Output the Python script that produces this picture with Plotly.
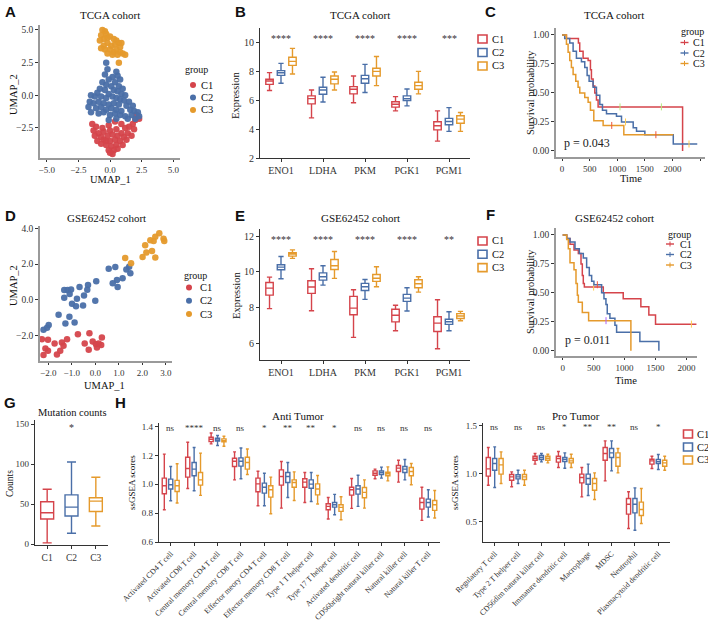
import plotly.graph_objects as go

W, H = 708, 628
RED, BLUE, ORANGE = '#D5444B', '#4A6FA8', '#E59A2C'
GROUPS = ['C1', 'C2', 'C3']
COLORS = [RED, BLUE, ORANGE]
SERIF = 'Liberation Serif'

# ---- A: TCGA UMAP ----
tcga_c1_umap = [(2.1, -1.5), (2.0, -1.9), (1.8, -2.2), (1.5, -2.4), (1.9, -2.6), (1.2, -2.5), (0.9, -2.2),
                (0.4, -2.0), (-0.1, -2.3), (-0.6, -2.5), (-1.1, -2.4), (-1.3, -2.7), (-0.9, -2.9), (-0.5, -2.8),
                (0.0, -2.7), (0.5, -2.6), (0.9, -2.9), (1.4, -2.9), (1.7, -3.1), (1.1, -3.2), (0.6, -3.1),
                (0.2, -3.0), (-0.2, -3.1), (-0.7, -3.2), (-1.2, -3.1), (-1.0, -3.5), (-0.5, -3.4), (0.0, -3.5),
                (0.4, -3.4), (0.8, -3.5), (1.3, -3.4), (1.0, -3.8), (0.5, -3.8), (0.1, -3.9), (-0.3, -3.8),
                (-0.7, -3.7), (0.3, -4.2), (-0.1, -4.2), (0.2, -4.5), (0.0, -4.4), (0.6, -4.1), (-0.3, -3.5),
                (-1.4, -2.2), (2.3, -1.8)]
tcga_c2_umap = [(-0.3, 2.5), (-0.2, 2.0), (0.5, 1.8), (-0.4, 1.6), (0.6, 1.5), (0.2, 1.4), (-0.1, 1.2),
                (0.8, 1.2), (-0.6, 1.0), (0.4, 1.0), (-0.3, 0.8), (0.1, 0.7), (0.7, 0.7), (1.0, 0.5),
                (-0.8, 0.5), (-0.4, 0.4), (0.3, 0.4), (0.6, 0.3), (-1.0, 0.2), (-0.1, 0.1), (1.2, 0.0),
                (0.9, 0.1), (-1.5, 0.0), (-1.2, -0.1), (-0.7, -0.1), (-0.3, -0.2), (0.2, -0.1), (0.5, -0.2),
                (0.8, -0.3), (1.1, -0.4), (1.5, -0.5), (-1.6, -0.5), (-1.3, -0.6), (-0.9, -0.5), (-0.5, -0.6),
                (-0.1, -0.7), (0.3, -0.6), (0.7, -0.7), (1.3, -0.8), (1.8, -0.8), (-1.7, -0.9), (-1.1, -1.0),
                (-0.7, -0.9), (-0.3, -1.1), (0.1, -1.0), (0.5, -1.1), (0.9, -1.2), (1.6, -1.1), (1.9, -1.2),
                (-1.5, -1.3), (-0.9, -1.4), (-0.5, -1.3), (0.0, -1.5), (0.4, -1.4), (0.8, -1.5), (1.2, -1.6),
                (1.7, -1.5), (2.0, -1.8), (0.5, -1.8), (1.4, -1.8), (-0.1, -1.9), (2.2, -1.3), (2.3, -1.6)]
tcga_c3_umap = [(-0.6, 5.0), (-0.4, 4.9), (-0.7, 4.6), (-0.3, 4.7), (-0.5, 4.3), (-0.2, 4.4), (0.0, 4.5),
                (0.3, 4.3), (0.5, 4.2), (0.4, 3.9), (0.7, 4.0), (0.8, 3.7), (0.1, 3.8), (-0.2, 4.0),
                (-0.5, 3.8), (-0.7, 3.6), (-0.4, 3.5), (0.0, 3.5), (0.3, 3.3), (0.5, 3.5), (0.8, 3.3),
                (1.0, 3.2), (1.2, 3.1), (0.6, 3.1), (0.2, 3.1), (-0.2, 3.2), (-0.8, 4.2), (0.9, 4.0), (0.7, 2.5)]

# ---- D: GSE62452 UMAP ----
gse_c1_umap = [(-2.27, -2.21), (-2.01, -2.24), (-2.12, -2.73), (-2.20, -3.10), (-2.01, -2.86), (-1.73, -2.45),
               (-1.63, -3.07), (-1.49, -2.86), (-1.42, -2.39), (-1.35, -2.58), (-1.20, -2.21), (-0.74, -1.93),
               (-0.45, -2.45), (-0.28, -2.80), (-0.25, -1.87), (-0.11, -2.34), (0.03, -2.49), (0.07, -2.67),
               (0.25, -2.54), (0.28, -2.11), (0.14, -2.45)]
gse_c2_umap = [(0.57, 1.74), (0.85, 1.83), (1.32, 1.70), (1.44, 1.85), (1.49, 1.48), (1.16, 1.21), (0.92, 1.10),
               (0.74, 0.92), (0.95, 0.71), (0.04, 1.03), (-0.31, 0.82), (-0.67, 0.71), (-0.34, 0.56),
               (-1.32, 0.54), (-1.18, 0.54), (-1.03, 0.58), (-1.09, 0.32), (-1.32, 0.11), (-0.78, 0.06),
               (-0.48, 0.24), (0.00, -0.06), (-0.99, -0.22), (-0.82, -0.37), (-0.52, -0.32), (-1.56, -0.84),
               (-1.10, -0.95), (-1.27, -1.33), (-0.88, -1.27), (-1.98, -1.42), (-2.20, -1.68), (-2.05, -1.57)]
gse_c3_umap = [(1.27, 2.34), (1.52, 2.04), (2.01, 2.39), (2.12, 3.05), (2.17, 2.64), (2.34, 3.33), (2.48, 3.29),
               (2.55, 3.53), (2.72, 3.72), (2.41, 2.73), (2.55, 2.36), (2.90, 3.42), (2.93, 3.29)]

# ---- B / E: expression boxes (lower whisker, q1, median, q3, upper whisker) ----
genes = ['ENO1', 'LDHA', 'PKM', 'PGK1', 'PGM1']
tcga_expr_c1 = [(6.67, 7.10, 7.33, 7.45, 7.91), (4.78, 5.75, 6.11, 6.30, 6.71), (5.82, 6.44, 6.76, 6.94, 7.68),
                (5.26, 5.52, 5.72, 5.89, 6.25), (3.17, 3.95, 4.23, 4.51, 5.26)]
tcga_expr_c2 = [(7.17, 7.72, 7.90, 8.05, 8.55), (5.88, 6.41, 6.71, 6.90, 7.59), (6.53, 7.17, 7.49, 7.72, 8.48),
                (5.61, 5.98, 6.11, 6.30, 6.78), (3.84, 4.30, 4.53, 4.74, 5.49)]
tcga_expr_c3 = [(7.82, 8.41, 8.69, 8.97, 9.59), (6.71, 7.13, 7.45, 7.68, 7.95), (7.01, 7.68, 8.00, 8.21, 9.03),
                (6.44, 6.76, 7.01, 7.24, 8.00), (3.84, 4.41, 4.69, 4.92, 5.15)]
tcga_expr_sig = ['****', '****', '****', '****', '***']

gse_expr_c1 = [(7.93, 8.69, 9.08, 9.40, 9.70), (7.81, 8.79, 9.15, 9.50, 10.17), (6.32, 7.59, 7.96, 8.62, 8.99),
               (6.69, 7.19, 7.56, 7.90, 8.12), (5.68, 6.65, 7.12, 7.48, 8.43)]
gse_expr_c2 = [(9.61, 10.11, 10.26, 10.39, 10.86), (9.25, 9.53, 9.72, 9.94, 10.34), (8.45, 8.95, 9.16, 9.35, 9.57),
               (7.80, 8.34, 8.52, 8.73, 9.10), (6.69, 7.05, 7.20, 7.34, 7.76)]
gse_expr_c3 = [(10.75, 10.88, 10.99, 11.07, 11.23), (9.63, 10.13, 10.34, 10.69, 11.14), (9.16, 9.46, 9.64, 9.85, 10.28),
               (8.86, 9.10, 9.33, 9.55, 9.72), (7.25, 7.38, 7.52, 7.65, 7.78)]
gse_expr_sig = ['****', '****', '****', '****', '**']

# ---- C / F: Kaplan-Meier steps ----
tcga_km_c1_t = [0, 79, 296, 320, 381, 472, 514, 532, 563, 593, 623, 653, 2184]
tcga_km_c1_s = [1, 0.97, 0.93, 0.86, 0.80, 0.78, 0.70, 0.62, 0.56, 0.50, 0.44, 0.38, 0.0]
tcga_km_c2_t = [0, 48, 139, 200, 260, 351, 411, 454, 490, 563, 623, 684, 732, 805, 986, 1077, 1289, 1349, 1500, 2015, 2450]
tcga_km_c2_s = [1, 0.97, 0.93, 0.86, 0.80, 0.77, 0.72, 0.65, 0.60, 0.55, 0.48, 0.40, 0.35, 0.32, 0.30, 0.25, 0.20,
                0.17, 0.14, 0.06, 0.06]
tcga_km_c3_t = [0, 79, 109, 139, 169, 200, 248, 290, 321, 411, 472, 514, 575, 744, 1119, 2015]
tcga_km_c3_s = [1, 0.92, 0.85, 0.78, 0.72, 0.66, 0.60, 0.55, 0.50, 0.46, 0.42, 0.35, 0.26, 0.22, 0.14, 0.14]
tcga_cens = [([1050, 1800], [0.38, 0.38]), ([1150, 2300], [0.25, 0.06]), ([900, 1700], [0.22, 0.14])]

gse_km_c1_t = [0, 65, 118, 183, 253, 296, 317, 333, 350, 656, 978, 1263, 1392, 1500, 2161]
gse_km_c1_s = [1, 0.97, 0.92, 0.87, 0.84, 0.75, 0.65, 0.58, 0.55, 0.50, 0.45, 0.38, 0.31, 0.23, 0.23]
gse_km_c2_t = [0, 65, 118, 199, 269, 333, 387, 430, 468, 505, 629, 667, 699, 720, 763, 844, 871, 1247, 1554]
gse_km_c2_s = [1, 0.97, 0.94, 0.88, 0.84, 0.80, 0.72, 0.65, 0.60, 0.57, 0.50, 0.45, 0.40, 0.32, 0.28, 0.22,
               0.16, 0.08, 0.0]
gse_km_c3_t = [0, 65, 91, 118, 183, 215, 237, 253, 317, 419, 1102]
gse_km_c3_s = [1, 0.96, 0.88, 0.76, 0.70, 0.58, 0.48, 0.42, 0.33, 0.26, 0.0]
gse_cens = [([500, 2080], [0.55, 0.23]), ([560], [0.57]), ([700], [0.26])]

# ---- G: mutation counts ----
mut_counts = [(1.7, 31.4, 39.3, 52.9, 68.6), (13.6, 35.1, 46.3, 61.6, 102.5), (22.7, 40.9, 53.7, 57.9, 83.5)]

# ---- H: immune ssGSEA ----
anti_cells = ['Activated CD4 T cell', 'Activated CD8 T cell', 'Central memory CD4 T cell',
              'Central memory CD8 T cell', 'Effector meory CD4 T cell', 'Effector memory CD8 T cell',
              'Type 1 T helper cell', 'Type 17 T helper cell', 'Activated dendritic cell',
              'CD56bright natural killer cell', 'Natural killer cell', 'Natural killer T cell']
anti_sig = ['ns', '****', 'ns', 'ns', '*', '**', '**', '*', 'ns', 'ns', 'ns', 'ns']
anti_c1 = [(0.824, 0.934, 0.99, 1.043, 1.209), (0.971, 1.05, 1.11, 1.188, 1.292), (1.28, 1.296, 1.312, 1.326, 1.356),
           (1.031, 1.123, 1.16, 1.181, 1.225), (0.851, 0.948, 1.003, 1.043, 1.091), (0.835, 0.994, 1.054, 1.10, 1.158),
           (0.874, 0.98, 1.015, 1.038, 1.082), (0.759, 0.824, 0.847, 0.865, 0.909), (0.833, 0.925, 0.962, 0.98, 1.04),
           (1.038, 1.063, 1.077, 1.093, 1.105), (1.015, 1.089, 1.112, 1.13, 1.167), (0.75, 0.828, 0.874, 0.904, 0.98)]
anti_c2 = [(0.886, 0.967, 0.997, 1.036, 1.123), (0.955, 1.059, 1.105, 1.151, 1.255), (1.269, 1.299, 1.308, 1.319, 1.338),
           (1.038, 1.126, 1.16, 1.183, 1.252), (0.851, 0.939, 0.98, 1.008, 1.077), (0.909, 1.013, 1.054, 1.082, 1.151),
           (0.881, 0.973, 1.001, 1.031, 1.082), (0.789, 0.842, 0.858, 0.874, 0.93), (0.847, 0.932, 0.967, 0.99, 1.063),
           (1.043, 1.068, 1.082, 1.093, 1.119), (1.031, 1.082, 1.105, 1.123, 1.172), (0.773, 0.842, 0.874, 0.897, 0.962)]
anti_c3 = [(0.87, 0.95, 0.99, 1.027, 1.142), (0.923, 0.994, 1.031, 1.082, 1.216), (1.264, 1.294, 1.303, 1.315, 1.333),
           (1.068, 1.105, 1.151, 1.188, 1.245), (0.796, 0.911, 0.962, 0.99, 1.05), (0.888, 0.98, 1.013, 1.031, 1.086),
           (0.863, 0.927, 0.967, 1.003, 1.061), (0.754, 0.812, 0.84, 0.858, 0.914), (0.835, 0.907, 0.944, 0.978, 1.031),
           (1.024, 1.059, 1.073, 1.084, 1.121), (0.997, 1.059, 1.089, 1.116, 1.144), (0.766, 0.819, 0.858, 0.888, 0.957)]

pro_cells = ['Regulatory T cell', 'Type 2 T helper cell', 'CD56dim natural killer cell', 'Immature dendritic cell',
             'Macrophage', 'MDSC', 'Neutrophil', 'Plasmacytoid dendritic cell']
pro_sig = ['ns', 'ns', 'ns', '*', '**', '**', 'ns', '*']
pro_c1 = [(0.882, 0.976, 1.052, 1.17, 1.274), (0.865, 0.934, 0.969, 0.993, 1.021), (1.101, 1.142, 1.163, 1.184, 1.212),
          (1.066, 1.122, 1.16, 1.184, 1.233), (0.76, 0.906, 0.962, 0.997, 1.066), (0.927, 1.142, 1.212, 1.274, 1.344),
          (0.431, 0.58, 0.684, 0.743, 0.813), (1.056, 1.101, 1.135, 1.153, 1.184)]
pro_c2 = [(0.858, 1.038, 1.108, 1.16, 1.281), (0.90, 0.948, 0.969, 0.99, 1.038), (1.125, 1.149, 1.17, 1.191, 1.212),
          (1.059, 1.128, 1.149, 1.17, 1.219), (0.774, 0.892, 0.951, 0.997, 1.101), (1.031, 1.17, 1.219, 1.264, 1.344),
          (0.413, 0.594, 0.684, 0.743, 0.854), (1.045, 1.108, 1.128, 1.149, 1.201)]
pro_c3 = [(0.90, 0.997, 1.094, 1.16, 1.229), (0.882, 0.941, 0.969, 0.993, 1.038), (1.115, 1.142, 1.163, 1.184, 1.205),
          (1.066, 1.115, 1.135, 1.16, 1.205), (0.733, 0.83, 0.899, 0.951, 1.01), (1.01, 1.08, 1.17, 1.219, 1.264),
          (0.483, 0.566, 0.628, 0.705, 0.847), (1.038, 1.08, 1.115, 1.142, 1.184)]


def px(x):
    return x / W


def py(y):
    return 1 - y / H


fig = go.Figure()


def add_umap(groups, n):
    for g, col, pts in zip(GROUPS, COLORS, groups):
        xs, ys = zip(*pts)
        fig.add_trace(go.Scatter(x=xs, y=ys, mode='markers', name=g,
                                 marker=dict(color=col, size=6.5, opacity=0.95),
                                 xaxis='x' + n, yaxis='y' + n))


def add_boxes(cats, groups, n):
    for g, col, stats in zip(GROUPS, COLORS, groups):
        lo, q1, med, q3, hi = zip(*stats)
        fig.add_trace(go.Box(x=cats, lowerfence=lo, q1=q1, median=med, q3=q3, upperfence=hi,
                             name=g, line=dict(color=col, width=1.4), fillcolor='white',
                             whiskerwidth=0.7, boxpoints=False, offsetgroup=g, alignmentgroup=n,
                             xaxis='x' + n, yaxis='y' + n))


def add_km(times, survs, cens, n):
    for g, col, t, s, c in zip(GROUPS, COLORS, times, survs, cens):
        fig.add_trace(go.Scatter(x=t, y=s, mode='lines', line=dict(color=col, width=1.5, shape='hv'),
                                 name=g, xaxis='x' + n, yaxis='y' + n))
        fig.add_trace(go.Scatter(x=c[0], y=c[1], mode='markers',
                                 marker=dict(symbol='line-ns-open', size=5, line=dict(color=col, width=1)),
                                 xaxis='x' + n, yaxis='y' + n))


add_umap([tcga_c1_umap, tcga_c2_umap, tcga_c3_umap], '')
add_boxes(genes, [tcga_expr_c1, tcga_expr_c2, tcga_expr_c3], '2')
add_km([tcga_km_c1_t, tcga_km_c2_t, tcga_km_c3_t], [tcga_km_c1_s, tcga_km_c2_s, tcga_km_c3_s], tcga_cens, '3')
add_umap([gse_c1_umap, gse_c2_umap, gse_c3_umap], '4')
add_boxes(genes, [gse_expr_c1, gse_expr_c2, gse_expr_c3], '5')
add_km([gse_km_c1_t, gse_km_c2_t, gse_km_c3_t], [gse_km_c1_s, gse_km_c2_s, gse_km_c3_s], gse_cens, '6')

for g, col, st in zip(GROUPS, COLORS, mut_counts):
    fig.add_trace(go.Box(x=[g], lowerfence=[st[0]], q1=[st[1]], median=[st[2]], q3=[st[3]], upperfence=[st[4]],
                         name=g, line=dict(color=col, width=1.4), fillcolor='white', whiskerwidth=0.7,
                         offsetgroup='g', alignmentgroup='7', xaxis='x7', yaxis='y7'))

add_boxes(anti_cells, [anti_c1, anti_c2, anti_c3], '8')
add_boxes(pro_cells, [pro_c1, pro_c2, pro_c3], '9')


def axis(x0, x1, rng, anchor, dark=True, size=10, **kw):
    col = '#333333' if dark else '#9a9a9a'
    d = dict(domain=[x0, x1], range=rng, anchor=anchor, showgrid=False, zeroline=False, showline=True,
             linecolor=col, linewidth=1.2 if dark else 1.6, ticks='outside', ticklen=3, tickcolor='#333333',
             tickfont=dict(family=SERIF, size=size, color='#333333'), automargin=False)
    d.update(kw)
    return d


layout = dict(
    width=W, height=H, margin=dict(l=0, r=0, t=0, b=0), paper_bgcolor='white', plot_bgcolor='white',
    showlegend=False, boxmode='group', boxgap=0.18, boxgroupgap=0.35,
    font=dict(family=SERIF, color='#222222'),
    # A
    xaxis=axis(px(40), px(180), [-5.53, 5.53], 'y', dark=False, dtick=2.5, tickformat='.1f', size=9, ticklen=2),
    yaxis=axis(py(158), py(25), [-4.8, 5.38], 'x', dark=False, dtick=2.5, tickformat='.1f', size=9.5),
    # B
    xaxis2=axis(px(260), px(470), [-0.5, 4.5], 'y2', size=10),
    yaxis2=axis(py(158), py(28), [2, 11], 'x2', dtick=2),
    # C
    xaxis3=axis(px(556), px(705), [-110, 2590], 'y3', dark=False, dtick=500, size=9, ticklen=2),
    yaxis3=axis(py(157), py(28), [-0.052, 1.06], 'x3', dark=False, dtick=0.25, tickformat='.2f', size=9.5),
    # D
    xaxis4=axis(px(40), px(172), [-2.35, 3.26], 'y4', dark=False, dtick=1, tickformat='.1f', size=9, ticklen=2),
    yaxis4=axis(py(361), py(226), [-3.43, 4.13], 'x4', dark=False, dtick=2, tickformat='.1f', size=9.5),
    # E
    xaxis5=axis(px(260), px(470), [-0.5, 4.5], 'y5', size=10),
    yaxis5=axis(py(360), py(229), [5.05, 12.4], 'x5', dtick=2),
    # F
    xaxis6=axis(px(556), px(697), [-108, 2170], 'y6', dark=False, dtick=500, size=9, ticklen=2),
    yaxis6=axis(py(356), py(228), [-0.045, 1.06], 'x6', dark=False, dtick=0.25, tickformat='.2f', size=9.5),
    # G
    xaxis7=axis(px(35), px(108), [-0.5, 2.5], 'y7', size=9.5),
    yaxis7=axis(py(545), py(420), [-1, 155], 'x7', dtick=50, size=9),
    # H
    xaxis8=axis(px(159), px(440), [-0.5, 11.5], 'y8', size=7.9, tickangle=-45),
    yaxis8=axis(py(542), py(423), [0.6, 1.425], 'x8', dtick=0.2, tickformat='.1f', size=9),
    xaxis9=axis(px(483), px(670), [-0.5, 7.5], 'y9', size=7.9, tickangle=-45),
    yaxis9=axis(py(542), py(423), [0.29, 1.53], 'x9', dtick=0.5, tickformat='.1f', size=9),
)
fig.update_layout(**layout)

ann = []
shapes = []


def label(x, y, s, size=11, family=SERIF, xanchor='center', yanchor='middle', **kw):
    ann.append(dict(x=px(x), y=py(y), xref='paper', yref='paper', text=s, showarrow=False,
                    xanchor=xanchor, yanchor=yanchor,
                    font=dict(family=family, size=size, color='#111111'), **kw))


# panel letters and titles
for letter, lx, ly in [('A', 10, 12), ('B', 240, 12), ('C', 490, 12), ('D', 10, 215), ('E', 240, 215),
                       ('F', 490, 214), ('G', 10, 402), ('H', 120, 402)]:
    label(lx, ly, '<b>%s</b>' % letter, size=15, family='Liberation Sans')

label(110, 15, 'TCGA cohort')
label(360, 15, 'TCGA cohort')
label(614, 15, 'TCGA cohort')
label(106, 218, 'GSE62452 cohort')
label(360, 218, 'GSE62452 cohort')
label(614, 218, 'GSE62452 cohort')
label(72, 412, 'Mutation counts', size=10.5)
label(298, 416, 'Anti Tumor')
label(576, 416, 'Pro Tumor')

# axis titles
label(110, 180, 'UMAP_1', size=10.5)
label(13, 95, 'UMAP_2', size=10.5, textangle=-90)
label(236, 96, 'Expression', size=10.5, textangle=-90)
label(631, 178, 'Time', size=10.5)
label(530, 93, 'Survival probability', size=10.5, textangle=-90)
label(104, 385, 'UMAP_1', size=10.5)
label(13, 286, 'UMAP_2', size=10.5, textangle=-90)
label(236, 296, 'Expression', size=10.5, textangle=-90)
label(626, 380, 'Time', size=10.5)
label(530, 292, 'Survival probability', size=10.5, textangle=-90)
label(10, 484, 'Counts', size=9.5, textangle=-90)
label(132, 483, 'ssGSEA scores', size=9, textangle=-90)
label(455, 483, 'ssGSEA scores', size=9, textangle=-90)

# significance marks
for cat, s in zip(genes, tcga_expr_sig):
    ann.append(dict(x=cat, y=10.25, xref='x2', yref='y2', text=s, showarrow=False,
                    font=dict(family=SERIF, size=10, color='#333333')))
for cat, s in zip(genes, gse_expr_sig):
    ann.append(dict(x=cat, y=11.8, xref='x5', yref='y5', text=s, showarrow=False,
                    font=dict(family=SERIF, size=10, color='#333333')))
ann.append(dict(x='C2', y=146, xref='x7', yref='y7', text='*', showarrow=False,
                font=dict(family=SERIF, size=10, color='#333333')))
for cat, s in zip(anti_cells, anti_sig):
    ann.append(dict(x=cat, y=1.39, xref='x8', yref='y8', text=s, showarrow=False,
                    font=dict(family=SERIF, size=9, color='#333333')))
for cat, s in zip(pro_cells, pro_sig):
    ann.append(dict(x=cat, y=1.485, xref='x9', yref='y9', text=s, showarrow=False,
                    font=dict(family=SERIF, size=9, color='#333333')))

ann.append(dict(x=0, y=0.07, xref='x3', yref='y3', text='p = 0.043', showarrow=False, xanchor='left',
                font=dict(family=SERIF, size=12, color='#222222')))
ann.append(dict(x=0, y=0.09, xref='x6', yref='y6', text='p = 0.011', showarrow=False, xanchor='left',
                font=dict(family=SERIF, size=12, color='#222222')))


# hand-drawn legends (compact ggplot-like keys)
def legend(kind, kx, ky, tx, step, title_pos=None, size=10.5):
    if title_pos:
        label(title_pos[0], title_pos[1], 'group', size=10, xanchor='left')
    for i, (g, col) in enumerate(zip(GROUPS, COLORS)):
        cy = ky + i * step
        if kind == 'dot':
            shapes.append(dict(type='circle', xref='paper', yref='paper', x0=px(kx - 3), x1=px(kx + 3),
                               y0=py(cy + 3), y1=py(cy - 3), fillcolor=col, line=dict(width=0)))
        elif kind == 'box':
            shapes.append(dict(type='rect', xref='paper', yref='paper', x0=px(kx - 4.5), x1=px(kx + 4.5),
                               y0=py(cy + 4), y1=py(cy - 4), fillcolor='white', line=dict(color=col, width=1.6)))
        else:
            shapes.append(dict(type='line', xref='paper', yref='paper', x0=px(kx - 4), x1=px(kx + 4),
                               y0=py(cy), y1=py(cy), line=dict(color=col, width=1.4)))
            shapes.append(dict(type='line', xref='paper', yref='paper', x0=px(kx), x1=px(kx),
                               y0=py(cy - 2.5), y1=py(cy + 2.5), line=dict(color=col, width=1)))
        label(tx, cy, g, size=size, xanchor='left')


legend('dot', 193, 85, 199, 12.5, (183, 70))
legend('box', 482.5, 39, 490, 13.5)
legend('line', 684.5, 42.5, 691, 10.5, (679, 32), size=10)
legend('dot', 189, 287.5, 198, 13.3, (182, 275))
legend('box', 482.5, 241, 490, 13.3)
legend('line', 670, 244, 678, 10.5, (666, 234), size=10)
legend('box', 688, 434, 695, 13)

fig.update_layout(annotations=ann, shapes=shapes)
fig.write_html('out.html', config={'displayModeBar': False},
               post_script="document.body.style.margin='0';")
